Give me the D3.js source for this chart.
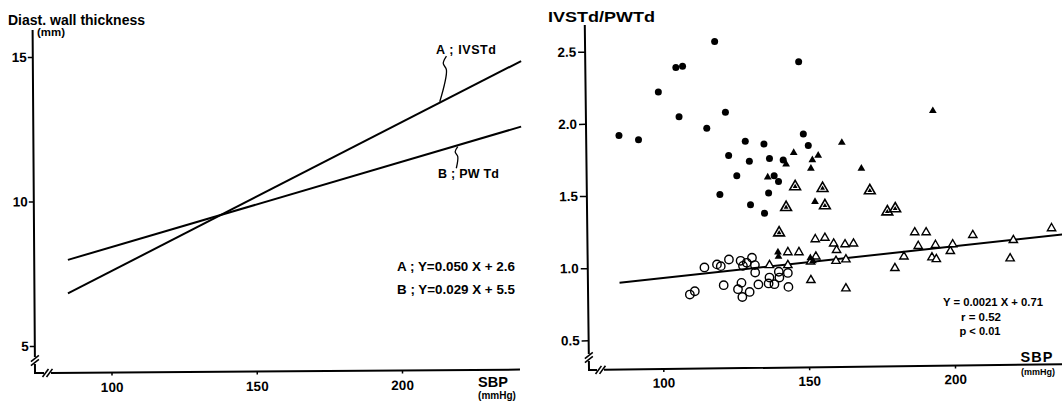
<!DOCTYPE html>
<html>
<head>
<meta charset="utf-8">
<script src="https://cdn.jsdelivr.net/npm/d3@7"></script>
<style>
  body { margin: 0; background: #fff; }
  svg { display: block; }
  text { font-family: "Liberation Sans", Arial, sans-serif; font-weight: bold; fill: #000; }
</style>
</head>
<body>
<svg id="chart" width="1062" height="402"></svg>
<script>
// ---- donnees panneau gauche (droites de regression, SBP en mmHg / epaisseur en mm)
const leftXTicks = [100, 150, 200];
const leftYTicks = [5, 10, 15];
const lineA = [[85, 6.82], [241, 14.86]];   // IVSTd
const lineB = [[85, 7.98], [241, 12.59]];   // PWTd
const leaderA = [[215.3, 15.03], [214.2, 14.78], [215.3, 14.55], [213.0, 13.45]];
const leaderB = [[219.2, 11.90], [218.3, 11.72], [219.2, 11.55], [218.7, 11.15]];

// ---- donnees panneau droit (SBP, IVSTd/PWTd)
const rightXTicks = [100, 150, 200];
const rightYTicks = [0.5, 1.0, 1.5, 2.0, 2.5];
const filledCircles = [
  [117.6, 2.57], [104.3, 2.39], [106.6, 2.40], [98.3, 2.22], [105.4, 2.05], [121.3, 2.08],
  [114.9, 1.97], [84.8, 1.92], [91.5, 1.89], [146.4, 2.43], [148.0, 1.93], [149.7, 1.85],
  [128.1, 1.88], [134.5, 1.86], [122.4, 1.78], [129.5, 1.74], [136.4, 1.76], [141.1, 1.75],
  [125.2, 1.64], [119.4, 1.51], [136.1, 1.52], [129.9, 1.44], [139.5, 1.60], [138.0, 1.64],
  [134.7, 1.38]
];
const filledTriangles = [
  [192.4, 2.09], [161.2, 1.87], [144.7, 1.80], [153.1, 1.78], [151.1, 1.75], [142.1, 1.72],
  [150.6, 1.69], [167.9, 1.69], [152.0, 1.46], [135.8, 1.63], [139.3, 1.11], [139.5, 1.08],
  [150.4, 1.07], [151.3, 1.05]
];
const ringTriangles = [
  [145.2, 1.565], [154.6, 1.553], [170.8, 1.537], [142.1, 1.421], [155.4, 1.433],
  [176.8, 1.391], [179.5, 1.412], [139.7, 1.245]
];
const openTriangles = [
  [152.1, 1.20], [155.4, 1.21], [158.4, 1.17], [162.3, 1.165], [165.2, 1.17], [159.4, 1.125],
  [159.2, 1.05], [162.6, 1.06], [150.6, 0.917], [162.6, 0.859], [179.4, 1.00], [182.5, 1.08],
  [186.2, 1.248], [190.1, 1.248], [187.4, 1.153], [193.3, 1.16], [192.1, 1.074], [193.6, 1.062],
  [198.4, 1.118], [199.2, 1.165], [206.1, 1.229], [220.0, 1.194], [218.9, 1.067], [233.1, 1.276],
  [142.7, 1.11], [146.5, 1.11], [136.4, 1.02], [142.7, 1.02], [152.3, 1.08], [150.5, 1.045]
];
const openCircles = [
  [114.1, 1.005], [118.4, 1.026], [119.7, 1.014], [122.5, 1.06], [126.5, 1.051], [127.3, 1.016],
  [128.6, 1.037], [130.4, 1.072], [131.4, 1.021], [131.5, 0.97], [120.7, 0.882], [126.8, 0.898],
  [125.6, 0.854], [127.1, 0.80], [129.6, 0.835], [132.6, 0.887], [109.1, 0.817], [110.8, 0.84],
  [136.4, 0.935], [136.1, 0.894], [138.1, 0.889], [139.6, 0.975], [142.7, 0.967], [142.9, 0.87],
  [139.8, 0.935]
];
const regLine = [[85, 0.898], [237, 1.234]];

const svg = d3.select("#chart");

// petites barres de coupure "//" sur les axes
function breakMarks(g, pts, dir) {
  pts.forEach(p => {
    const dx = dir === "v" ? 4 : 3, dy = dir === "v" ? 3 : 4;
    g.append("line")
      .attr("x1", p[0] - dx).attr("y1", p[1] + dy)
      .attr("x2", p[0] + dx).attr("y2", p[1] - dy)
      .attr("stroke", "#000").attr("stroke-width", 1.6);
  });
}

function label(x, y, size, txt, len, adjust) {
  const t = svg.append("text").attr("x", x).attr("y", y).attr("font-size", size).text(txt);
  if (len) t.attr("textLength", len).attr("lengthAdjust", adjust || "spacingAndGlyphs");
  return t;
}

// =================== panneau gauche
const xL = d3.scaleLinear().domain([100, 200]).range([111.5, 402]);
const yL = d3.scaleLinear().domain([5, 15]).range([346, 57]);
const oxL = 35, oyL = 373;

const axL = svg.append("g").attr("transform", `rotate(-0.4,${oxL},${oyL})`);
axL.append("path")
  .attr("d", `M${oxL},30V357M${oxL},364V${oyL}H44M51,${oyL}H520`)
  .attr("fill", "none").attr("stroke", "#000").attr("stroke-width", 2);
breakMarks(axL, [[oxL, 358.5], [oxL, 362.5]], "v");
breakMarks(axL, [[45.5, oyL], [49.5, oyL]], "h");

axL.append("g")
  .attr("transform", `translate(${oxL},0)`)
  .call(d3.axisLeft(yL).tickValues(leftYTicks).tickSize(5).tickPadding(1).tickFormat(d3.format("d")))
  .call(g => g.select(".domain").remove())
  .call(g => g.selectAll("line").attr("stroke-width", 1.5))
  .call(g => g.selectAll("text").attr("font-size", 13.5).attr("font-family", null));

axL.append("g")
  .attr("transform", `translate(0,${oyL})`)
  .call(d3.axisBottom(xL).tickValues(leftXTicks).tickSize(3).tickPadding(7).tickFormat(d3.format("d")))
  .call(g => g.select(".domain").remove())
  .call(g => g.selectAll("line").attr("stroke-width", 1.5))
  .call(g => g.selectAll("text").attr("font-size", 13.5).attr("font-family", null));

label(8, 25, 14.5, "Diast. wall thickness", 137);
label(37, 36, 10, "(mm)", 28);

const lineL = d3.line().x(d => xL(d[0])).y(d => yL(d[1]));
[lineA, lineB].forEach(l => {
  svg.append("path").attr("d", lineL(l)).attr("fill", "none")
    .attr("stroke", "#000").attr("stroke-width", 2);
});
const leaderLine = d3.line().x(d => xL(d[0])).y(d => yL(d[1])).curve(d3.curveCatmullRom);
[leaderA, leaderB].forEach(l => {
  svg.append("path").attr("d", leaderLine(l)).attr("fill", "none")
    .attr("stroke", "#000").attr("stroke-width", 1.3);
});

label(436, 54, 12.5, "A ; IVSTd", 60, "spacing");
label(438, 178, 12.5, "B ; PW Td", 61, "spacing");
label(397, 271, 12, "A ;  Y=0.050 X + 2.6", 118);
label(397, 293.5, 12, "B ;  Y=0.029 X + 5.5", 118);
label(493, 386.5, 14.5, "SBP").attr("text-anchor", "middle");
label(497, 399, 10, "(mmHg)").attr("text-anchor", "middle");

// =================== panneau droit
const xR = d3.scaleLinear().domain([100, 200]).range([663.3, 955]);
const yR = d3.scaleLinear().domain([0.5, 2.5]).range([340.3, 51.7]);
const oxR = 589, oyR = 370;

const axR = svg.append("g").attr("transform", `rotate(-0.7,${oxR},${oyR})`);
axR.append("path")
  .attr("d", `M${oxR},25V354M${oxR},361V${oyR}H597M604,${oyR}H1075`)
  .attr("fill", "none").attr("stroke", "#000").attr("stroke-width", 2);
breakMarks(axR, [[oxR, 355.5], [oxR, 359.5]], "v");
breakMarks(axR, [[598.5, oyR], [602.5, oyR]], "h");

axR.append("g")
  .attr("transform", `translate(${oxR},0)`)
  .call(d3.axisLeft(yR).tickValues(rightYTicks).tickSize(7).tickPadding(2).tickFormat(d3.format(".1f")))
  .call(g => g.select(".domain").remove())
  .call(g => g.selectAll("line").attr("stroke-width", 1.5))
  .call(g => g.selectAll("text").attr("font-size", 13.5).attr("font-family", null));

axR.append("g")
  .attr("transform", `translate(0,${oyR})`)
  .call(d3.axisBottom(xR).tickValues(rightXTicks).tickSize(3).tickPadding(6).tickFormat(d3.format("d")))
  .call(g => g.select(".domain").remove())
  .call(g => g.selectAll("line").attr("stroke-width", 1.5))
  .call(g => g.selectAll("text").attr("font-size", 13.5).attr("font-family", null));

label(548, 22, 14.5, "IVSTd/PWTd", 107);

const lineR = d3.line().x(d => xR(d[0])).y(d => yR(d[1]));
svg.append("path").attr("d", lineR(regLine)).attr("fill", "none")
  .attr("stroke", "#000").attr("stroke-width", 2);

const plot = svg.append("g");
const tri = s => d3.symbol().type(d3.symbolTriangle).size(s)();

plot.selectAll(".oc").data(openCircles).join("circle")
  .attr("cx", d => xR(d[0])).attr("cy", d => yR(d[1])).attr("r", 4.2)
  .attr("fill", "none").attr("stroke", "#000").attr("stroke-width", 1.4);

plot.selectAll(".ot").data(openTriangles).join("path")
  .attr("transform", d => `translate(${xR(d[0])},${yR(d[1])})`)
  .attr("d", tri(30)).attr("fill", "#fff").attr("stroke", "#000").attr("stroke-width", 1.4);

const rings = plot.selectAll(".rt").data(ringTriangles).join("g")
  .attr("transform", d => `translate(${xR(d[0])},${yR(d[1])})`);
rings.append("path").attr("d", tri(50)).attr("fill", "#fff")
  .attr("stroke", "#000").attr("stroke-width", 1.6);
rings.append("path").attr("d", tri(10)).attr("fill", "#000");

plot.selectAll(".ft").data(filledTriangles).join("path")
  .attr("transform", d => `translate(${xR(d[0])},${yR(d[1])})`)
  .attr("d", tri(26)).attr("fill", "#000");

plot.selectAll(".fc").data(filledCircles).join("circle")
  .attr("cx", d => xR(d[0])).attr("cy", d => yR(d[1])).attr("r", 3.5)
  .attr("fill", "#000");

label(943, 306, 11.5, "Y = 0.0021 X + 0.71", 100);
label(961, 320.5, 11.5, "r = 0.52", 40);
label(959.5, 335, 11.5, "p < 0.01", 41);
label(1037, 361.5, 14.5, "SBP").attr("text-anchor", "middle").attr("letter-spacing", 1);
label(1038, 375, 9, "(mmHg)").attr("text-anchor", "middle");
</script>
</body>
</html>
